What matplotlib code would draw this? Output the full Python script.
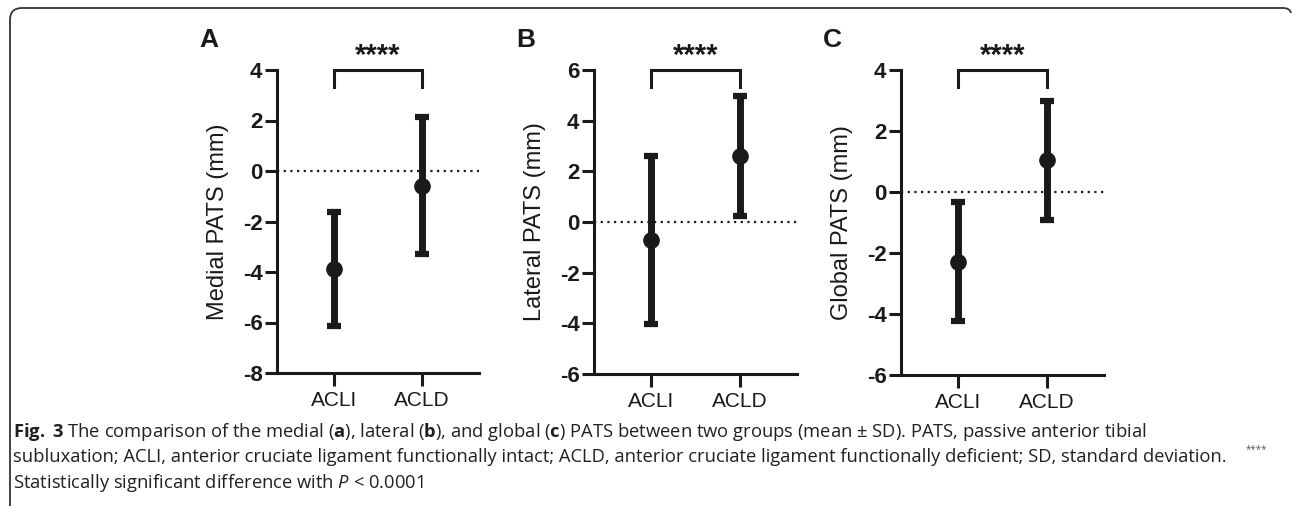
import matplotlib
matplotlib.use("Agg")
import matplotlib.pyplot as plt
import matplotlib.transforms as mtransforms
from matplotlib.path import Path
from matplotlib.patches import PathPatch

# data (mean, SD)
groups = ["ACLI", "ACLD"]
medial_mean = [-3.88, -0.58]
medial_sd = [2.25, 2.72]
lateral_mean = [-0.71, 2.61]
lateral_sd = [3.32, 2.37]
global_mean = [-2.28, 1.04]
global_sd = [1.95, 1.96]

letters = ["A", "B", "C"]
ylabels = ["Medial PATS (mm)", "Lateral PATS (mm)", "Global PATS (mm)"]
ylims = [(-8, 4), (-6, 6), (-6, 4)]
sig_label = "****"

W, H = 1292, 508
fig = plt.figure(figsize=(W / 100, H / 100), dpi=100)
ink = "#1a1a1a"
plt.rcParams["font.family"] = ["Liberation Sans", "DejaVu Sans"]
plt.rcParams["axes.unicode_minus"] = False

# axes boxes in pixels: left, right, top, bottom
boxes = [(277, 479, 70, 373), (594, 797, 70, 374), (901, 1104, 70, 375)]
means = [medial_mean, lateral_mean, global_mean]
sds = [medial_sd, lateral_sd, global_sd]

for i in range(3):
    l, r, t, b = boxes[i]
    ax = fig.add_axes([l / W, 1 - b / H, (r - l) / W, (b - t) / H])
    x = list(range(len(groups)))
    ax.errorbar(x, means[i], yerr=sds[i], fmt="o", color=ink, ms=11,
                elinewidth=5, capsize=5, capthick=4.5)
    ax.axhline(0, color=ink, lw=1.6, ls=(0, (1, 2)), zorder=0)
    lo, hi = ylims[i]
    ax.set_ylim(lo, hi)
    ax.set_xlim(-0.65, 1.65)
    ax.set_yticks(range(lo, hi + 1, 2))
    ax.set_xticks(x)
    ax.set_xticklabels(groups, fontsize=15)
    for lab in ax.get_yticklabels():
        lab.set_fontweight("bold")
        lab.set_fontsize(16)
    ax.set_ylabel(ylabels[i], fontsize=17, color=ink, labelpad=10)
    for s in ["top", "right"]:
        ax.spines[s].set_visible(False)
    for s in ["left", "bottom"]:
        ax.spines[s].set_linewidth(2.2)
        ax.spines[s].set_color(ink)
    ax.tick_params(length=9, width=2.2, color=ink, labelcolor=ink, pad=1.5)
    ax.tick_params(axis="x", pad=4)
    ax.patch.set_alpha(0)

    # significance bracket
    tr = mtransforms.blended_transform_factory(ax.transData, ax.transAxes)
    ax.plot([0, 0, 1, 1], [0.944, 1, 1, 0.944], color=ink, lw=2.2,
            transform=tr, clip_on=False, solid_joinstyle="miter")
    ax.text(0.5, 1.0, sig_label, transform=tr, ha="center", va="bottom",
            fontsize=21, fontweight="bold", color=ink)

    # panel letter
    fig.text((l - 78) / W, 1 - 40 / H, letters[i], fontsize=19,
             fontweight="bold", color=ink, ha="left", va="center")

# caption
plt.rcParams["mathtext.fontset"] = "custom"
plt.rcParams["mathtext.rm"] = "Open Sans"
plt.rcParams["mathtext.bf"] = "Open Sans:bold"
plt.rcParams["mathtext.it"] = "Open Sans:italic"
cap = dict(fontsize=13.2, family="Open Sans", color="#231f20", ha="left",
           va="center")
fig.text(13 / W, 1 - 432 / H,
         r"$\mathbf{Fig.}$ $\mathbf{3}$ The comparison of the medial ($\mathbf{a}$), "
         r"lateral ($\mathbf{b}$), and global ($\mathbf{c}$) PATS between two "
         "groups (mean ± SD). PATS, passive anterior tibial", **cap)
fig.text(13 / W, 1 - 457 / H,
         "subluxation; ACLI, anterior cruciate ligament functionally intact; "
         "ACLD, anterior cruciate ligament functionally deficient; SD, "
         "standard deviation.", **cap)
fig.text(1246 / W, 1 - 450 / H, sig_label, fontsize=7, family="Open Sans",
         color="#555555", ha="left", va="center")
fig.text(13 / W, 1 - 483 / H,
         r"Statistically significant difference with $P$ < 0.0001", **cap)

# rounded frame on top and left edges
pts = [(10, 506), (10, 20), (10, 8), (22, 8), (1283, 8), (1290, 8),
       (1291, 13)]
codes = [Path.MOVETO, Path.LINETO, Path.CURVE3, Path.CURVE3, Path.LINETO,
         Path.CURVE3, Path.CURVE3]
verts = [(px / W, 1 - py / H) for px, py in pts]
fig.patches.append(PathPatch(Path(verts, codes), fill=False, lw=1.3,
                             edgecolor="#333333", transform=fig.transFigure))

fig.savefig("out.png", dpi=100)
